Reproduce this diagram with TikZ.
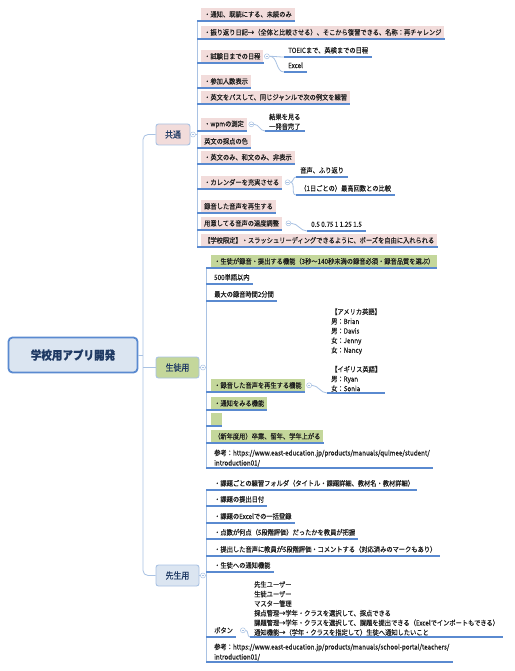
\documentclass[tikz,border=0pt]{standalone}
\usepackage{fontspec}
\setmainfont{Noto Sans CJK JP}[FakeStretch=0.88, FakeBold=0.2]
\usetikzlibrary{positioning, calc}
\definecolor{blush}{HTML}{F2DCDB}
\definecolor{sage}{HTML}{C4D79B}
\definecolor{mist}{HTML}{DBE5F1}
\definecolor{royal}{HTML}{5A8AD0}
\definecolor{wireblue}{HTML}{A9C2E3}
\definecolor{navy}{HTML}{1F3A64}
\definecolor{ink}{HTML}{1E1E1E}

\begin{document}
\begin{tikzpicture}[x=1pt, y=-1pt,
  root/.style={rectangle, rounded corners=4pt, draw=royal, line width=1.8pt,
    fill=mist, minimum width=129pt, minimum height=35pt,
    font=\fontsize{12pt}{14pt}\selectfont\bfseries, text=navy},
  branch/.style={rectangle, rounded corners=2.5pt, draw=wireblue, line width=0.9pt,
    minimum height=21pt, font=\fontsize{9pt}{11pt}\selectfont, text=navy},
  item/.style={rectangle, anchor=south west, minimum height=13pt,
    inner xsep=3pt, inner ysep=1pt, font=\fontsize{7.1pt}{8pt}\selectfont, text=ink},
  pitem/.style={item, fill=blush},
  gitem/.style={item, fill=sage},
  leaf/.style={item, align=left, inner xsep=4pt, font=\fontsize{7.1pt}{9.6pt}\selectfont},
  wire/.style={draw=wireblue, line width=0.8pt},
  under/.style={draw=royal, line width=1.4pt},
  fold/.style={circle, draw=wireblue, fill=white, line width=0.5pt,
    minimum size=5pt, inner sep=0pt,
    path picture={\draw[wireblue, line width=0.4pt]
      ([xshift=1.3pt]path picture bounding box.west) --
      ([xshift=-1.3pt]path picture bounding box.east);}}
]
\useasboundingbox[fill=white] (0,0) rectangle (514,671);

% root and branches
\node[root] (app) at (73,355) {学校用アプリ開発};
\node[branch, fill=blush, minimum width=34pt] (common)  at (173,134.5) {共通};
\node[branch, fill=sage,  minimum width=43pt] (student) at (177.5,367.5) {生徒用};
\node[branch, fill=mist,  minimum width=43pt] (teacher) at (177.5,575.5) {先生用};
\coordinate (trunk)  at (143,0);
\coordinate (ctrunk) at (197,0);
\coordinate (strunk) at (206,0);

% common
\node[pitem] (c1)  at (201,21)  {・通知、既読にする、未読のみ};
\node[pitem] (c2)  at (201,39)  {・振り返り日記→（全体と比較させる）、そこから復習できる、名称：再チャレンジ};
\node[pitem] (c3)  at (201,63)  {・試験日までの日程};
\node[pitem] (c4)  at (201,88)  {・参加人数表示};
\node[pitem] (c5)  at (201,104) {・英文をパスして、同じジャンルで次の例文を練習};
\node[pitem] (c6)  at (201,131) {・wpmの測定};
\node[pitem] (c7)  at (201,148) {英文の採点の色};
\node[pitem] (c8)  at (201,164) {・英文のみ、和文のみ、非表示};
\node[pitem] (c9)  at (201,189) {・カレンダーを充実させる};
\node[pitem] (c10) at (201,213) {録音した音声を再生する};
\node[pitem] (c11) at (201,230) {用意してる音声の速度調整};
\node[pitem] (c12) at (201,247) {【学校限定】・スラッシュリーディングできるように、ポーズを自由に入れられる};
\node[fold, right=0.5pt of c3]  (f3)  {};
\node[fold, right=1.5pt of c6]  (f6)  {};
\node[fold, right=2.5pt of c9]  (f9)  {};
\node[fold, right=3.5pt of c11] (f11) {};
\node[leaf] (e1) at (284,57)  {TOEICまで、英検までの日程};
\node[leaf] (e2) at (284,72)  {Excel};
\node[leaf] (e3) at (265,131) {結果を見る\\一発音完了};
\node[leaf] (e4) at (296,177) {音声、ふり返り};
\node[leaf] (e5) at (296,195) {（1日ごとの）最高回数との比較};
\node[leaf] (e6) at (307,231) {0.5 0.75 1 1.25 1.5};

% student
\node[gitem] (s1) at (211,268) {・生徒が録音・提出する機能（3秒〜140秒未満の録音必須・録音品質を選ぶ）};
\node[item]  (s2) at (211,284) {500単語以内};
\node[item]  (s3) at (211,301) {最大の録音時間2分間};
\node[gitem] (s4) at (211,392) {・録音した音声を再生する機能};
\node[gitem] (s5) at (211,410) {・通知をみる機能};
\node[gitem, minimum width=11pt] (s6) at (211,426) {};
\node[gitem] (s7) at (211,443) {（新年度用）卒業、留年、学年上がる};
\node[item, align=left, font=\fontsize{7.1pt}{10pt}\selectfont] (s8) at (211,468)
  {参考：https://www.east-education.jp/products/manuals/qulmee/student/\\introduction01/};
\node[fold, right=1.5pt of s4] (fs4) {};
\node[leaf] (e7) at (327,393) {【アメリカ英語】\\男：Brian\\男：Davis\\女：Jenny\\女：Nancy\\[9.6pt]【イギリス英語】\\男：Ryan\\女：Sonia};

% teacher
\node[item] (t1) at (211,490) {・課題ごとの練習フォルダ（タイトル・課題詳細、教材名・教材詳細）};
\node[item] (t2) at (211,506) {・課題の提出日付};
\node[item] (t3) at (211,523) {・課題のExcelでの一括登録};
\node[item] (t4) at (211,539) {・点数が何点（5段階評価）だったかを教員が把握};
\node[item] (t5) at (211,556) {・提出した音声に教員が5段階評価・コメントする（対応済みのマークもあり）};
\node[item] (t6) at (211,572) {・生徒への通知機能};
\node[item] (t7) at (211,637) {ボタン};
\node[item, align=left, font=\fontsize{7.1pt}{10pt}\selectfont] (t8) at (211,662)
  {参考：https://www.east-education.jp/products/manuals/school-portal/teachers/\\introduction01/};
\node[fold, right=4pt of t7] (ft7) {};
\node[leaf] (e8) at (250,637) {先生ユーザー\\生徒ユーザー\\マスター管理\\採点管理→学年・クラスを選択して、採点できる\\課題管理→学年・クラスを選択して、課題を提出できる（Excelでインポートもできる）\\通知機能→（学年・クラスを指定して）生徒へ通知したいこと};

% connectors
\draw[wire, rounded corners=5pt] (common.west) -| (trunk |- teacher.west) -- (teacher.west);
\draw[wire] (app.east) -- (app.east -| trunk);
\draw[wire] (student.west) -- (student.west -| trunk);
\draw[wire] (common.east) -- (common.east -| ctrunk);
\draw[wire] (c1.south -| ctrunk) -- (c12.south -| ctrunk);
\draw[wire] (student.east) -- (student.east -| strunk);
\draw[wire] (s1.south -| strunk) -- (s8.south -| strunk);
\draw[wire] (teacher.east) -- (teacher.east -| strunk);
\draw[wire] (t1.south -| strunk) -- (t8.south -| strunk);
\foreach \f/\e in {f3/e1, f3/e2, f6/e3, f9/e4, f9/e5, f11/e6, fs4/e7, ft7/e8}
  \draw[wire] (\f.east) to[out=0, in=180] (\e.south west);
\foreach \i in {1,...,12} \draw[under] (c\i.south -| ctrunk) -- (c\i.south east);
\foreach \i in {1,...,8} \draw[under] (s\i.south -| strunk) -- (s\i.south east);
\foreach \i in {1,...,8} \draw[under] (t\i.south -| strunk) -- (t\i.south east);
\foreach \i in {1,...,8} \draw[under] (e\i.south west) -- (e\i.south east);
\node[fold] (fc) at ($(common.east)+(2.5,0)$) {};
\node[fold] (fst) at ($(student.east)+(3.5,0)$) {};
\node[fold] (fte) at ($(teacher.east)+(3.5,0)$) {};
\end{tikzpicture}
\end{document}
